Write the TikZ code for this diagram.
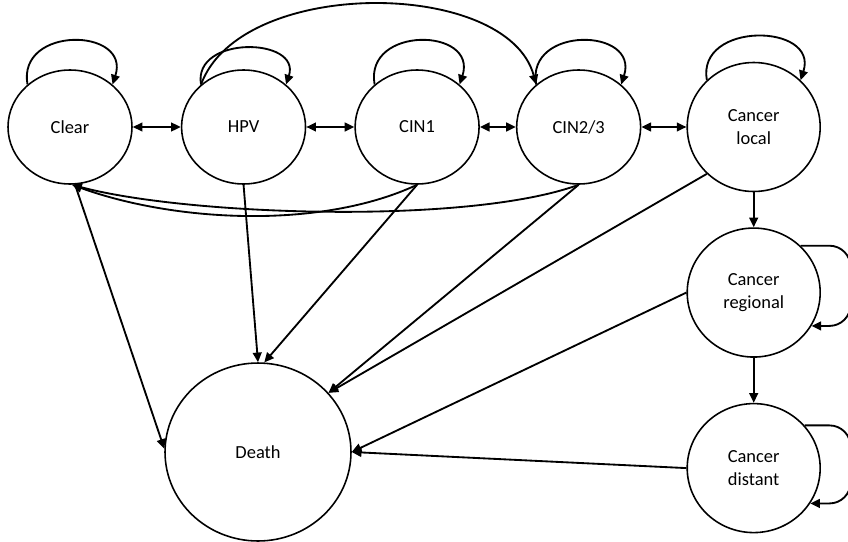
\documentclass[tikz,border=0pt]{standalone}
\usepackage{fontspec}
\setmainfont{Carlito}
\usetikzlibrary{%
	arrows.meta,%
	positioning,%
	shapes.geometric,%
}
\tikzset{
	>={Triangle[length=5.5pt,width=5pt]},%
	nodes={align=center},%
	state/.style={%
			draw,%
			ellipse,%
			line width=0.9pt,%
			inner sep=0,%
			minimum width=2.48cm,%
			minimum height=2.28cm,%
			font={\fontsize{10.5}{13}\selectfont}},%
	cancerstate/.style={%
			state,%
			minimum width=2.66cm,%
			minimum height=2.58cm},%
	deathstate/.style={%
			state,%
			minimum width=3.72cm,%
			minimum height=3.56cm},%
	trans/.style={->, line width=1.05pt},%
	sideloop/.style={->, line width=1.05pt, rounded corners=12pt},%
}
\newcommand{\toploop}[2]{\draw[trans] (#1.135) .. controls +(100:#2) and +(72:#2) .. (#1.45);}

\begin{document}
\begin{tikzpicture}[x=0.02cm, y=-0.02cm]%
	\useasboundingbox (0,0) rectangle (848,541);

	\node[state] (clear) at (70,127) {Clear};
	\node[state] (hpv) [right=0.96cm of clear] {HPV};
	\node[state] (cin1) [right=0.96cm of hpv] {CIN1};
	\node[state] (cin23) [right=0.72cm of cin1] {CIN2/3};
	\node[cancerstate] (local) [right=0.9cm of cin23] {Cancer\\local};
	\node[cancerstate] (regional) [below=0.7cm of local] {Cancer\\regional};
	\node[cancerstate] (distant) [below=0.9cm of regional] {Cancer\\distant};
	\node[deathstate] (death) at (258,452) {Death};

	% staying in the same state
	\toploop{clear}{1.2cm}
	\toploop{hpv}{1.0cm}
	\toploop{cin1}{1.2cm}
	\toploop{cin23}{1.2cm}
	\toploop{local}{1.2cm}
	\draw[sideloop] (regional.45) -- ++(1cm,0) |- (regional.-30);
	\draw[sideloop] (distant.40) -- ++(0.92cm,0) |- (distant.-32);

	% progression and regression
	\draw[<->, line width=1.05pt] (clear) -- (hpv);
	\draw[<->, line width=1.05pt] (hpv) -- (cin1);
	\draw[<->, line width=1.05pt] (cin1) -- (cin23);
	\draw[<->, line width=1.05pt] (cin23) -- (local);
	\draw[trans] (hpv.135) .. controls +(70:2.3cm) and +(105:2.2cm) .. (cin23.135);
	\draw[trans] (cin1.south) to[out=205, in=-20, looseness=0.8] (clear.-88);
	\draw[trans] (cin23.south) to[out=200, in=-15, looseness=0.6] (clear.-88);
	\draw[trans] (local) -- (regional);
	\draw[trans] (regional) -- (distant);

	% death
	\draw[trans] (clear.-85) -- (death.178);
	\draw[trans] (hpv.south) -- (death.north);
	\draw[trans] (cin1.south) -- (death.86);
	\draw[trans] (cin23.south) -- (death.40);
	\draw[trans] (local.225) -- (death.40);
	\draw[trans] (regional.west) -- (death.east);
	\draw[trans] (distant.west) -- (death.east);
\end{tikzpicture}
\end{document}
